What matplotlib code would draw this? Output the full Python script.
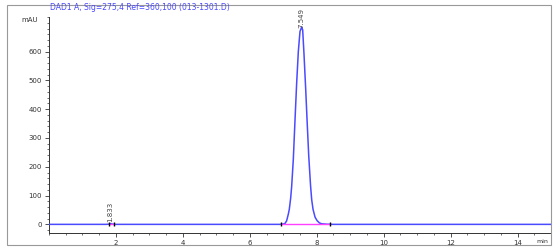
import matplotlib
matplotlib.use("Agg")
import matplotlib.pyplot as plt
from matplotlib.patches import Rectangle
from matplotlib.ticker import MultipleLocator

title = "DAD1 A, Sig=275,4 Ref=360,100 (013-1301.D)"

# trace (min, mAU)
time = [0.0, 1.70, 1.78, 1.833, 1.90, 1.97, 6.90, 7.00, 7.05, 7.10, 7.15, 7.18,
        7.22, 7.25, 7.30, 7.35, 7.40, 7.45, 7.50, 7.55, 7.58, 7.62, 7.67, 7.71,
        7.76, 7.815, 7.85, 7.89, 7.95, 8.01, 8.08, 8.15, 8.30, 8.50, 15.0]
signal = [0, 0, 0.5, 2.5, 0.8, 0, 0, 1, 3, 12, 35, 52,
          90, 130, 225, 360, 490, 600, 670, 685, 675, 590, 470, 365,
          240, 135, 85, 52, 25, 13, 5, 2, 0.5, 0, 0]

peak_times = [1.833, 7.549]
peak_labels = ["1.833", "7.549"]
peak_heights = [8, 682]
base_start = [1.78, 6.93]
base_end = [1.95, 8.39]

blue = "#4a4aff"
pink = "#ff40ff"

fig = plt.figure(figsize=(5.55, 2.5), dpi=100)
ax = fig.add_axes([49 / 555, 17 / 250, 502 / 555, 216 / 250])

ax.plot(time, signal, color=blue, lw=1.1, zorder=3)
for s, e in zip(base_start, base_end):
    ax.plot([s, e], [0, 0], color=pink, lw=1.0, zorder=4)
    ax.plot([s, e], [0, 0], ls="none", marker="|", ms=2.5, color="black", zorder=5)

for t, lab, h in zip(peak_times, peak_labels, peak_heights):
    ax.text(t, h, lab, rotation=90, ha="center", va="bottom",
            fontsize=5, color="#444444", zorder=6)

ax.set_xlim(0, 15)
ax.set_ylim(-30, 720)
ax.xaxis.set_minor_locator(MultipleLocator(0.5))
ax.yaxis.set_minor_locator(MultipleLocator(20))
ax.set_xticks([2, 4, 6, 8, 10, 12, 14])
ax.set_yticks([0, 100, 200, 300, 400, 500, 600])
ax.tick_params(labelsize=5, colors="#333333", length=3, width=0.6, pad=2)
ax.tick_params(which="minor", length=1.5, width=0.5, colors="#333333")
for side in ["top", "right"]:
    ax.spines[side].set_visible(False)
for side in ["left", "bottom"]:
    ax.spines[side].set_linewidth(0.7)
    ax.spines[side].set_color("#333333")

ax.text(-0.022, 0.985, "mAU", transform=ax.transAxes, fontsize=5, ha="right",
        va="center", color="#333333")
ax.text(14.75, -0.04, "min", transform=ax.get_xaxis_transform(), fontsize=4.5,
        ha="center", va="center", color="#333333")

fig.text(50 / 555, 1 - 8 / 250, title, fontsize=5.5, color=blue, va="center")
fig.patches.append(Rectangle((7 / 555, 5 / 250), 544 / 555, 240 / 250,
                             transform=fig.transFigure, fill=False,
                             edgecolor="#999999", lw=0.8))

fig.savefig("out.png", dpi=100)
